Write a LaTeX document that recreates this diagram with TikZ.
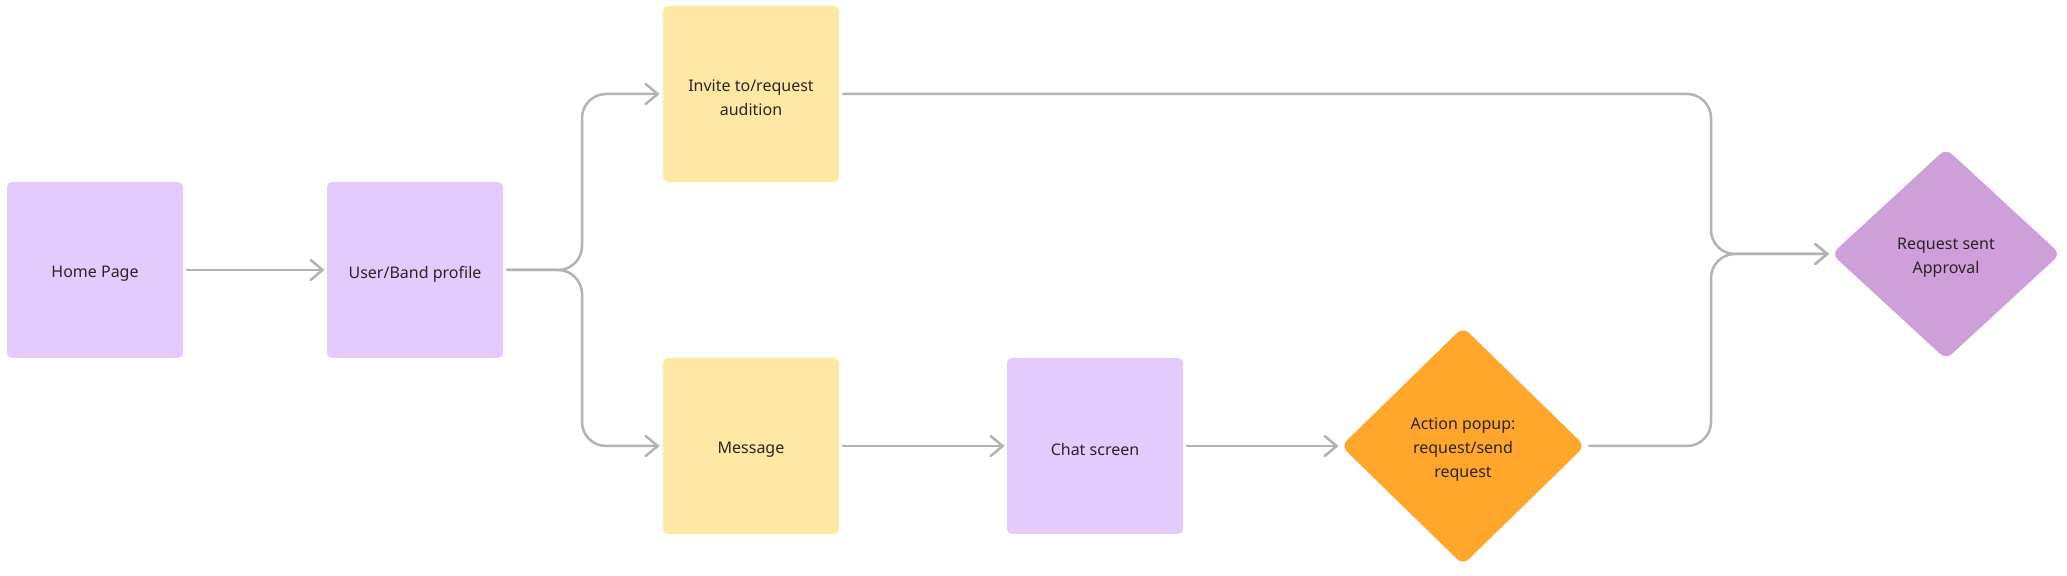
\documentclass[tikz,border=0pt]{standalone}
\usepackage{fontspec}
\setmainfont{Noto Sans}
\usetikzlibrary{shapes.geometric,arrows.meta}
\definecolor{lav}{HTML}{E3CCFD}
\definecolor{sun}{HTML}{FFE8A3}
\definecolor{orng}{HTML}{FFA62B}
\definecolor{plum}{HTML}{CE9FD8}
\definecolor{wire}{HTML}{B3B3B3}
\definecolor{ink}{HTML}{2B2526}
\begin{document}
\begin{tikzpicture}[x=0.5pt,y=-0.5pt,
  lbl/.style={align=center, text=ink, font=\fontsize{8}{12}\selectfont, inner sep=0pt, yshift=-2pt},
  card/.style={rectangle, rounded corners=2.5pt, minimum width=88pt, minimum height=88pt, inner sep=0pt},
  dec/.style={diamond, rounded corners=4pt, aspect=1, inner sep=0pt},
  link/.style={draw=wire, line width=1.25pt, rounded corners=12pt,
    -{Straight Barb[length=6pt,width=10pt,line cap=round]}},
]
\useasboundingbox (0,0) rectangle (2067,576);

\node[card, fill=lav, label={[lbl]center:Home Page}] (home) at (95,270) {};
\node[card, fill=lav, label={[lbl]center:User/Band profile}] (user) at (415,270) {};
\node[card, fill=sun, label={[lbl]center:{Invite to/request\\audition}}] (invite) at (751,94) {};
\node[card, fill=sun, label={[lbl]center:Message}] (msg) at (751,446) {};
\node[card, fill=lav, label={[lbl]center:Chat screen}] (chat) at (1095,446) {};
\node[dec, fill=orng, minimum width=122pt, minimum height=119pt,
  label={[lbl]center:{Action popup:\\request/send\\request}}] (popup) at (1463,446) {};
\node[dec, fill=plum, minimum width=114.5pt, minimum height=105.5pt,
  label={[lbl]center:{Request sent\\Approval}}] (sent) at (1946,254) {};

\coordinate (jl) at (582,270);
\coordinate (jr) at (1711,254);

\draw[link, shorten <=1.5pt, shorten >=1pt] (home.east) -- (user.west);
\draw[link, shorten <=1.5pt, shorten >=1.5pt] (user.east) -- (jl) |- (invite.west);
\draw[link, shorten <=1.5pt, shorten >=1.5pt] (user.east) -- (jl) |- (msg.west);
\draw[link, shorten <=1.5pt, shorten >=1pt] (msg.east) -- (chat.west);
\draw[link, shorten <=1.5pt, shorten >=1pt] (chat.east) -- (popup.west);
\draw[link, shorten <=1.5pt, shorten >=1pt] (invite.east) -| (jr) -- (sent.west);
\draw[link, shorten <=1.5pt, shorten >=1pt] (popup.east) -| (jr) -- (sent.west);
\end{tikzpicture}
\end{document}
